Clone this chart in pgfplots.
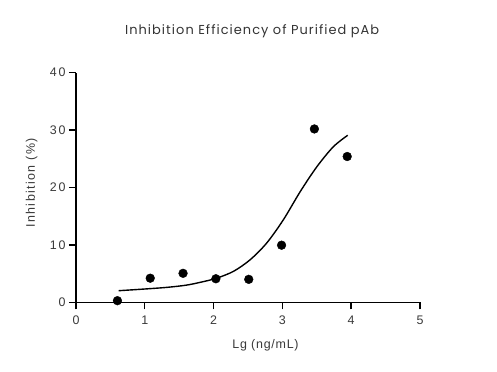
\documentclass[border=0pt]{standalone}
\usepackage{pgfplots}
\pgfplotsset{compat=1.18}
\usepackage{fontspec}
\setmainfont{Liberation Sans}
\newfontfamily\tickfont[LetterSpace=14]{Liberation Sans}
\newfontfamily\xlabfont[LetterSpace=6]{Liberation Sans}
\newfontfamily\ylabfont[LetterSpace=11]{Liberation Sans}
\newfontfamily\titfont[LetterSpace=8]{Poppins}
\definecolor{labgray}{HTML}{3A3A3A}
\definecolor{titgray}{HTML}{333333}
\begin{document}
\begin{tikzpicture}
\useasboundingbox (-76bp,-69.7bp) rectangle (421bp,302.3bp);
\begin{axis}[
  at={(0,0)}, anchor=origin,
  scale only axis,
  width=344bp, height=229.6bp,
  xmin=0, xmax=5, ymin=0, ymax=40,
  xtick={0,1,2,3,4,5}, ytick={0,10,20,30,40},
  xticklabels={0,1,2,3,4,5}, yticklabels={0,10,20,30,40},
  axis lines=left,
  axis line style={-, line width=1.6pt, black},
  tick style={line width=1.4pt, black},
  major tick length=7bp,
  tick align=outside,
  /pgf/number format/assume math mode=true,
  tick label style={font=\tickfont\fontsize{12.5}{14}\selectfont, text=labgray},
  xticklabel style={yshift=-3bp},
  clip=false,
  xlabel={Lg (ng/mL)},
  ylabel={Inhibition (\%)},
  xlabel style={font=\xlabfont\fontsize{12.5}{14}\selectfont, text=labgray, at={(rel axis cs:0.551,0)}, anchor=center, yshift=-42.7bp},
  ylabel style={font=\ylabfont\fontsize{12.5}{14}\selectfont, text=labgray, at={(rel axis cs:0,0.52)}, anchor=center, yshift=44.3bp},
]
\addplot[black, line width=1.4pt, smooth] coordinates {
(0.62,2.02) (0.98,2.3) (1.32,2.6) (1.61,3.0) (1.85,3.6) (2.045,4.2) (2.29,5.4) (2.53,7.4) (2.77,10.3) (3.01,14.3) (3.26,19.3) (3.50,23.6) (3.74,27.1) (3.95,29.1)
};
\addplot[only marks, mark=*, mark size=4.4pt, black] coordinates {
(0.602,0.28) (1.079,4.2) (1.556,5.05) (2.033,4.1) (2.511,4.0) (2.988,9.95) (3.465,30.2) (3.942,25.4)
};
\node[font=\titfont\fontsize{13}{16}\selectfont, text=titgray] at (rel axis cs:0.512,1) [yshift=41.9bp] {Inhibition Efficiency of Purified pAb};
\end{axis}
\end{tikzpicture}
\end{document}
